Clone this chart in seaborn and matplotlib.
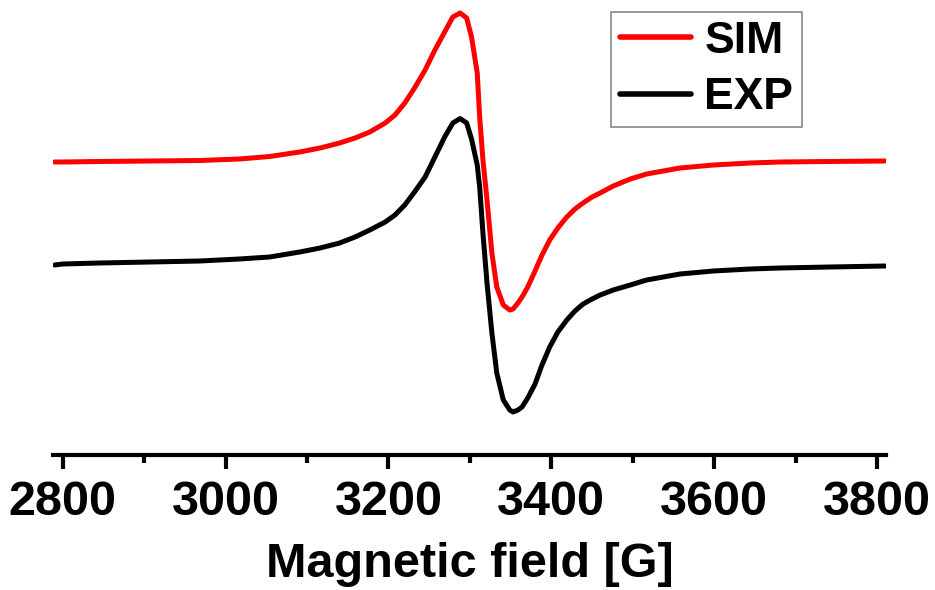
import matplotlib
matplotlib.use("Agg")
import matplotlib.pyplot as plt
from matplotlib.ticker import MultipleLocator
import pandas as pd
import seaborn as sns

# Magnetic field (G) sample positions
field = [2790, 2800, 2845, 2907, 2968, 3017, 3054, 3091, 3116, 3140,
         3159, 3177, 3196, 3208, 3220, 3232, 3245, 3257, 3269, 3279,
         3288, 3296, 3302, 3309, 3312, 3316, 3321, 3327, 3333, 3341,
         3349, 3353, 3359, 3364, 3371, 3380, 3388, 3398, 3408, 3419,
         3429, 3439, 3450, 3460, 3476, 3497, 3517, 3558, 3599, 3644,
         3681, 3742, 3810]

# Simulated spectrum (a.u., vertically offset)
sim = [293, 293, 293.5, 294, 294.5, 296, 298.5, 303, 307, 312,
       317, 323, 332, 340, 352, 367, 385, 405, 423, 438,
       442, 437, 418, 382, 338, 295, 255, 202, 168, 150,
       145, 146, 152, 158, 168, 184, 199, 215, 227, 238,
       246, 252, 258, 262, 269, 276, 281, 287, 290, 292,
       293, 293.5, 294]

# Experimental spectrum (a.u.)
exp = [190, 191, 192, 193, 194, 196, 198, 203, 207, 212,
       218, 225, 233, 240, 250, 263, 278, 298, 318, 332,
       336.5, 332, 316, 290, 268, 222, 172, 122, 82, 55,
       45, 43, 45, 48, 57, 71, 89, 108, 123, 135,
       144, 151, 156, 160, 165, 170, 175, 181, 184, 186,
       187, 188, 189]

xticks = [2800, 3000, 3200, 3400, 3600, 3800]
series = ["SIM", "EXP"]
colors = {"SIM": "#ff0000", "EXP": "#000000"}

sns.set_style("white")
plt.rcParams["font.family"] = ["Liberation Sans", "DejaVu Sans"]
plt.rcParams["font.weight"] = "bold"
plt.rcParams["text.color"] = "black"
plt.rcParams["axes.labelcolor"] = "black"
plt.rcParams["xtick.color"] = "black"

n = len(field)
df = pd.DataFrame({
    "field": field * 2,
    "signal": sim + exp,
    "trace": ["SIM"] * n + ["EXP"] * n,
})

fig = plt.figure(figsize=(9.35, 5.9), dpi=100)
ax = fig.add_axes([53 / 935, 135 / 590, 833 / 935, 455 / 590])
sns.lineplot(data=df, x="field", y="signal", hue="trace", hue_order=series,
             palette=colors, linewidth=3.6, ax=ax, sort=False, estimator=None)

ax.set_xlim(2788, 3811)
ax.set_ylim(0, 455)
for s in ["top", "right", "left"]:
    ax.spines[s].set_visible(False)
ax.spines["bottom"].set_linewidth(3)
ax.spines["bottom"].set_color("black")
ax.set_yticks([])
ax.set_xticks(xticks)
ax.set_xticklabels([str(t) for t in xticks])
ax.xaxis.set_minor_locator(MultipleLocator(100))
ax.tick_params(axis="x", which="major", direction="out", length=10, width=3,
               labelsize=35, pad=8, bottom=True, colors="black")
ax.tick_params(axis="x", which="minor", direction="out", length=6, width=3,
               bottom=True, colors="black")
for lbl in ax.get_xticklabels():
    lbl.set_fontweight("bold")
ax.set_xlabel("Magnetic field [G]", fontsize=35, fontweight="bold",
              labelpad=12, color="black")
ax.set_ylabel("")

leg = ax.legend(loc="upper left", bbox_to_anchor=(611 / 935, 1 - 12 / 590),
                bbox_transform=fig.transFigure, borderaxespad=0,
                frameon=True, fancybox=False, framealpha=1, edgecolor="#888888",
                prop={"size": 32, "weight": "bold"}, handlelength=1.6,
                handletextpad=0.3, labelspacing=0.35, borderpad=0.2)
leg.get_frame().set_linewidth(1.2)
for txt in leg.get_texts():
    txt.set_color("black")
for line in leg.get_lines():
    line.set_linewidth(4)

fig.savefig("out.png", dpi=100)
